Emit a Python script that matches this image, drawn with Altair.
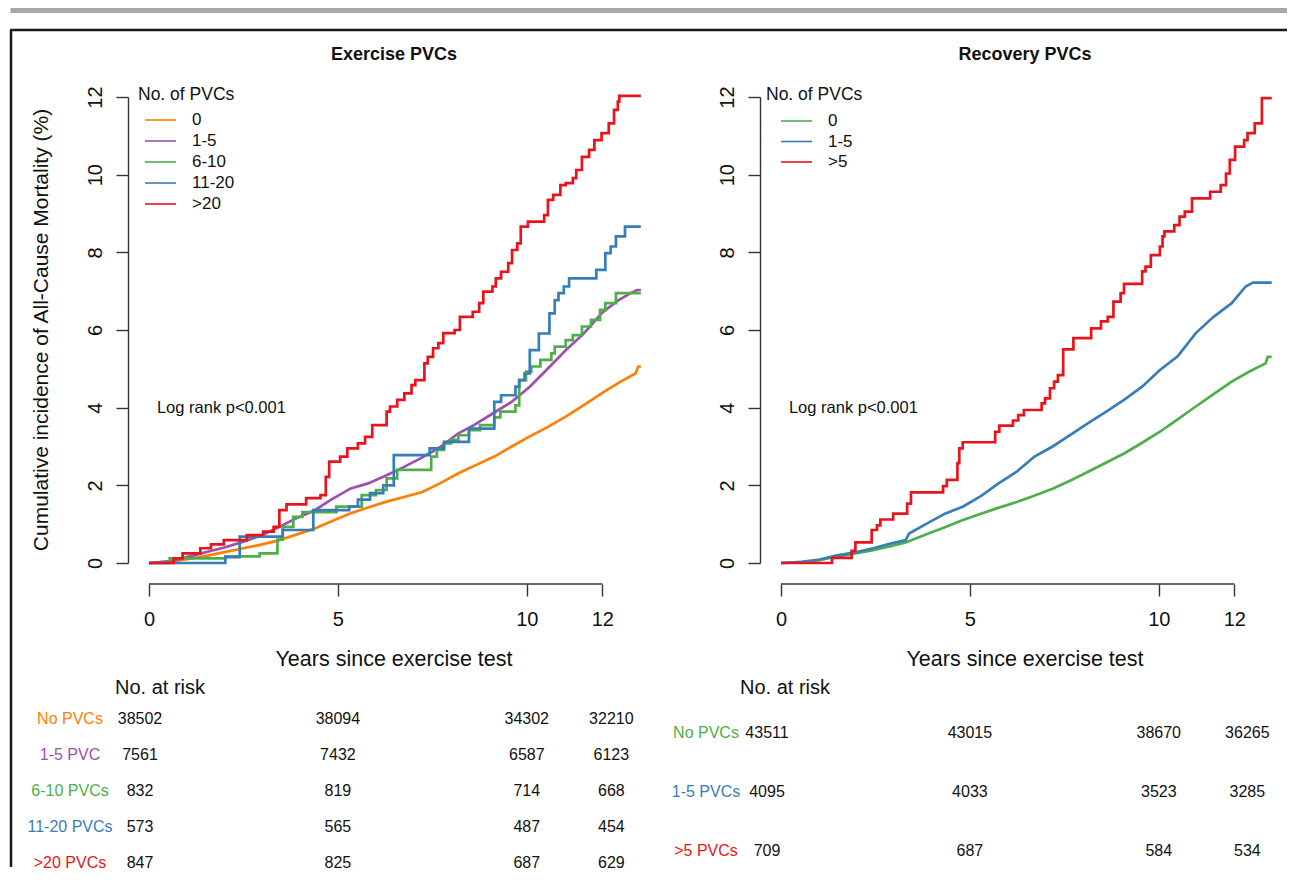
import altair as alt
import pandas as pd

# ---------------- data ----------------
year_ticks = [0, 5, 10, 12]
pct_ticks = [0, 2, 4, 6, 8, 10, 12]

# Exercise PVCs panel
ex_groups = ["0", "1-5", "6-10", "11-20", ">20"]
ex_colors = ["#FF7F00", "#9E4FB0", "#4DAF4A", "#377EB8", "#E8141B"]
ex_row_labels = ["No PVCs", "1-5 PVC", "6-10 PVCs", "11-20 PVCs", ">20 PVCs"]
ex_risk_0 = [38502, 38094, 34302, 32210]
ex_risk_1_5 = [7561, 7432, 6587, 6123]
ex_risk_6_10 = [832, 819, 714, 668]
ex_risk_11_20 = [573, 565, 487, 454]
ex_risk_gt20 = [847, 825, 687, 629]

ex_orange_t = [0, 0.6, 1.0, 1.55, 2.0, 2.5, 3.0, 3.45, 3.9, 4.39, 4.85, 5.34, 5.8, 6.29, 6.75,
               7.24, 7.7, 8.19, 8.65, 9.14, 9.6, 10.08, 10.55, 11.03, 11.5, 11.98, 12.45, 12.88, 12.95, 13.02]
ex_orange_v = [0, 0.04, 0.10, 0.19, 0.28, 0.38, 0.48, 0.59, 0.73, 0.89, 1.08, 1.28, 1.43, 1.58, 1.70,
               1.83, 2.05, 2.31, 2.52, 2.74, 3.00, 3.26, 3.50, 3.77, 4.06, 4.37, 4.65, 4.88, 5.06, 5.06]

ex_purple_t = [0, 0.6, 1.0, 1.55, 2.0, 2.5, 3.0, 3.45, 3.9, 4.39, 4.8, 5.34, 5.8, 6.29, 6.7,
               7.2, 7.7, 8.19, 8.6, 9.1, 9.6, 10.08, 10.5, 11.03, 11.5, 11.98, 12.4, 12.75, 12.92, 13.02]
ex_purple_v = [0, 0.05, 0.15, 0.29, 0.40, 0.55, 0.72, 0.93, 1.15, 1.36, 1.62, 1.92, 2.05, 2.26, 2.45,
               2.70, 2.98, 3.34, 3.55, 3.85, 4.15, 4.54, 4.95, 5.48, 5.90, 6.43, 6.75, 6.95, 7.03, 7.03]

ex_green_t = [0, 0.55, 2.02, 2.93, 3.40, 3.54, 3.82, 4.06, 4.96, 5.63, 6.01, 6.29, 6.57, 7.47, 7.62,
              7.81, 8.00, 8.19, 8.47, 8.76, 9.14, 9.30, 9.70, 9.80, 9.98, 10.12, 10.36, 10.65, 10.74,
              11.03, 11.22, 11.46, 11.70, 11.94, 12.08, 12.36, 13.02]
ex_green_v = [0, 0.12, 0.17, 0.25, 0.60, 0.93, 1.19, 1.31, 1.45, 1.75, 1.88, 2.18, 2.40, 2.74, 2.91,
              3.08, 3.17, 3.29, 3.42, 3.55, 3.75, 3.90, 4.06, 4.71, 4.93, 5.06, 5.23, 5.40, 5.57,
              5.74, 5.87, 6.09, 6.26, 6.52, 6.69, 6.95, 6.95]

ex_blue_t = [0, 2.02, 2.40, 3.54, 4.35, 5.30, 5.53, 5.85, 6.20, 6.48, 7.43, 7.81, 8.47, 9.14, 9.32,
             9.70, 9.80, 9.94, 10.08, 10.32, 10.60, 10.74, 10.84, 10.98, 11.12, 11.84, 12.08, 12.22,
             12.36, 12.60, 13.02]
ex_blue_v = [0, 0.15, 0.68, 0.85, 1.36, 1.45, 1.63, 1.80, 2.00, 2.78, 2.95, 3.12, 3.46, 4.15, 4.32,
             4.54, 4.71, 4.88, 5.48, 5.91, 6.43, 6.77, 6.95, 7.12, 7.33, 7.55, 7.98, 8.15,
             8.41, 8.66, 8.66]

ex_red_t = [0, 0.65, 0.89, 1.36, 1.64, 1.98, 2.59, 3.02, 3.30, 3.45, 3.64, 4.16, 4.54, 4.68, 4.77,
            5.06, 5.25, 5.53, 5.72, 5.91, 6.29, 6.38, 6.57, 6.76, 6.95, 7.05, 7.29, 7.38, 7.52, 7.66,
            7.79, 8.09, 8.23, 8.57, 8.74, 8.85, 9.09, 9.18, 9.32, 9.51, 9.61, 9.75, 9.84, 10.03, 10.46,
            10.56, 10.70, 10.89, 11.03, 11.22, 11.31, 11.46, 11.65, 11.79, 11.98, 12.17, 12.31, 12.41,
            12.45, 13.02]
ex_red_v = [0, 0.12, 0.25, 0.38, 0.48, 0.59, 0.72, 0.81, 0.93, 1.36, 1.51, 1.67, 1.75, 2.22, 2.61,
            2.74, 2.95, 3.08, 3.25, 3.55, 3.90, 4.03, 4.20, 4.37, 4.58, 4.71, 5.14, 5.31, 5.53, 5.66,
            5.92, 6.00, 6.34, 6.47, 6.69, 6.99, 7.12, 7.33, 7.50, 7.72, 8.06, 8.23, 8.66, 8.79, 8.96,
            9.35, 9.48, 9.73, 9.78, 9.91, 10.12, 10.46, 10.64, 10.89, 11.07, 11.32, 11.67, 11.88,
            12.03, 12.03]

# Recovery PVCs panel
rec_groups = ["0", "1-5", ">5"]
rec_colors = ["#4DAF4A", "#377EB8", "#E8141B"]
rec_row_labels = ["No PVCs", "1-5 PVCs", ">5 PVCs"]
rec_risk_0 = [43511, 43015, 38670, 36265]
rec_risk_1_5 = [4095, 4033, 3523, 3285]
rec_risk_gt5 = [709, 687, 584, 534]

rec_green_t = [0, 0.55, 1.02, 1.49, 2.0, 2.44, 2.9, 3.30, 3.8, 4.34, 4.8, 5.29, 5.75, 6.24, 6.7,
               7.19, 7.65, 8.13, 8.6, 9.08, 9.55, 10.03, 10.5, 10.98, 11.45, 11.93, 12.4, 12.83, 12.88, 12.99]
rec_green_v = [0, 0.02, 0.07, 0.17, 0.25, 0.33, 0.43, 0.53, 0.72, 0.92, 1.10, 1.27, 1.42, 1.57, 1.73,
               1.91, 2.12, 2.35, 2.58, 2.82, 3.09, 3.38, 3.70, 4.03, 4.35, 4.67, 4.93, 5.14, 5.31, 5.31]

rec_blue_t = [0, 0.55, 1.02, 1.49, 2.0, 2.44, 2.9, 3.30, 3.39, 3.87, 4.34, 4.81, 5.29, 5.76, 6.24,
              6.71, 7.19, 7.66, 8.13, 8.61, 9.08, 9.56, 10.03, 10.50, 10.98, 11.45, 11.93, 12.30, 12.49, 12.99]
rec_blue_v = [0, 0.03, 0.09, 0.20, 0.28, 0.38, 0.50, 0.59, 0.76, 1.02, 1.27, 1.45, 1.72, 2.05, 2.35,
              2.74, 3.00, 3.30, 3.60, 3.90, 4.20, 4.54, 4.97, 5.32, 5.92, 6.34, 6.69, 7.12, 7.22, 7.22]

rec_red_t = [0, 1.35, 1.87, 1.97, 2.40, 2.54, 2.63, 2.97, 3.34, 3.44, 4.29, 4.39, 4.67, 4.72, 4.81,
             5.67, 5.78, 6.14, 6.28, 6.43, 6.90, 6.99, 7.12, 7.23, 7.33, 7.47, 7.74, 8.21, 8.47, 8.65,
             8.80, 8.99, 9.08, 9.56, 9.65, 9.79, 10.03, 10.10, 10.15, 10.41, 10.55, 10.69, 10.88, 11.36,
             11.64, 11.78, 11.88, 12.02, 12.26, 12.35, 12.54, 12.73, 12.99]
rec_red_v = [0, 0.13, 0.31, 0.53, 0.85, 0.97, 1.12, 1.27, 1.53, 1.82, 1.98, 2.14, 2.57, 2.95, 3.11,
             3.38, 3.54, 3.67, 3.81, 3.94, 4.11, 4.24, 4.50, 4.67, 4.84, 5.50, 5.79, 6.04, 6.22, 6.34,
             6.73, 6.95, 7.19, 7.51, 7.63, 7.93, 8.15, 8.41, 8.54, 8.70, 8.92, 9.05, 9.39, 9.56,
             9.73, 10.03, 10.38, 10.72, 10.89, 11.07, 11.32, 11.97, 11.97]

# ---------------- layout / style ----------------
FONT = "Liberation Sans"
W, H = 493, 466
X_DOMAIN = [0, 13.05]
Y_DOMAIN = [0, 12]
AX_OFF = 21
TICK = 12
AXC = "#333333"
TXT = "#111111"


def x_enc():
    return alt.X("t:Q", scale=alt.Scale(domain=X_DOMAIN, nice=False, zero=False),
                 axis=alt.Axis(values=year_ticks, domain=False, tickSize=TICK, tickWidth=1.4,
                               tickColor=AXC, labelFontSize=20, labelPadding=29,
                               labelBaseline="alphabetic", labelFlush=False, labelOverlap=False,
                               labelColor=TXT, grid=False, offset=AX_OFF, title=None))


def y_enc():
    return alt.Y("v:Q", scale=alt.Scale(domain=Y_DOMAIN, nice=False),
                 axis=alt.Axis(values=pct_ticks, domainColor=AXC, domainWidth=1.4, tickSize=TICK,
                               tickWidth=1.4, tickColor=AXC, labelAngle=270, labelAlign="center",
                               labelBaseline="alphabetic", labelPadding=15, labelFontSize=20,
                               labelFlush=False, labelOverlap=False, labelColor=TXT, grid=False,
                               offset=AX_OFF, title=None))


def curve_df(names, ts_list, vs_list):
    rows = []
    for g, ts, vs in zip(names, ts_list, vs_list):
        for t, v in zip(ts, vs):
            rows.append({"group": g, "t": t, "v": v})
    return pd.DataFrame(rows)


def risk_df(groups, risk_lists):
    rows = []
    for g, lst in zip(groups, risk_lists):
        for t, n in zip(year_ticks, lst):
            rows.append({"group": g, "t": t, "n": n})
    return pd.DataFrame(rows)


def one_row():
    return pd.DataFrame({"k": [0]})


def panel(title, groups, colors, smooth_df, step_df, row_labels, risk_lists,
          leg_title_x, leg_line_x, leg_text_x, leg_range,
          atrisk_x, lab_x, tab_range, dx_first, dx_last, title_x, ytitle, deco):
    col = alt.Color("group:N", scale=alt.Scale(domain=groups, range=colors), legend=None)

    smooth = alt.Chart(smooth_df).mark_line(strokeWidth=2.7, interpolate="linear").encode(
        x=x_enc(), y=y_enc(), color=col)
    step = alt.Chart(step_df).mark_line(strokeWidth=2.7, interpolate="step-after").encode(
        x=x_enc(), y=y_enc(), color=col)
    logrank = alt.Chart(pd.DataFrame({"t": [0.21], "v": [3.99], "txt": ["Log rank p<0.001"]})).mark_text(
        align="left", baseline="middle", fontSize=16.5, color=TXT).encode(
        x=x_enc(), y=y_enc(), text="txt:N")
    xline = alt.Chart(pd.DataFrame({"t": [year_ticks[0]], "t2": [year_ticks[-1]]})).mark_rule(
        color=AXC, strokeWidth=1.4).encode(x=x_enc(), x2="t2:Q", y=alt.value(H + AX_OFF))
    curves = alt.layer(smooth, step, logrank, xline)

    # legend
    leg_y = alt.Y("group:N", scale=alt.Scale(type="point", domain=groups, range=leg_range, padding=0),
                  axis=None)
    leg_df = pd.DataFrame({"group": groups})
    leg_lines = alt.Chart(leg_df).mark_rule(strokeWidth=1.6).encode(
        x=alt.value(leg_line_x[0]), x2=alt.value(leg_line_x[1]), y=leg_y, color=col)
    leg_text = alt.Chart(leg_df).mark_text(align="left", baseline="middle", fontSize=17, color=TXT).encode(
        x=alt.value(leg_text_x), y=leg_y, text="group:N")
    legend = alt.layer(leg_lines, leg_text)

    # number-at-risk table
    tab_y = alt.Y("group:N", scale=alt.Scale(type="point", domain=groups, range=tab_range, padding=0),
                  axis=None)
    lab_df = pd.DataFrame({"group": groups, "label": row_labels})
    rdf = risk_df(groups, risk_lists)
    tab_labels = alt.Chart(lab_df).mark_text(align="center", baseline="middle", fontSize=16).encode(
        x=alt.value(lab_x), y=tab_y, text="label:N", color=col)
    nums_first = alt.Chart(rdf).transform_filter(alt.datum.t == year_ticks[0]).mark_text(
        baseline="middle", fontSize=16, color=TXT, dx=dx_first).encode(
        x=x_enc(), y=tab_y, text=alt.Text("n:Q", format="d"))
    nums_mid = alt.Chart(rdf).transform_filter(
        (alt.datum.t > year_ticks[0]) & (alt.datum.t < year_ticks[-1])).mark_text(
        baseline="middle", fontSize=16, color=TXT).encode(
        x=x_enc(), y=tab_y, text=alt.Text("n:Q", format="d"))
    nums_last = alt.Chart(rdf).transform_filter(alt.datum.t == year_ticks[-1]).mark_text(
        baseline="middle", fontSize=16, color=TXT, dx=dx_last).encode(
        x=x_enc(), y=tab_y, text=alt.Text("n:Q", format="d"))
    table = alt.layer(tab_labels, nums_first, nums_mid, nums_last)

    # titles and captions
    annots = [
        alt.Chart(one_row()).mark_text(align="center", baseline="middle", fontSize=18,
                                       fontWeight="bold", color=TXT, text=title).encode(
            x=alt.value(title_x), y=alt.value(-42)),
        alt.Chart(one_row()).mark_text(align="center", baseline="middle", fontSize=21.5,
                                       color=TXT, text="Years since exercise test").encode(
            x=alt.value(title_x), y=alt.value(563)),
        alt.Chart(one_row()).mark_text(align="left", baseline="middle", fontSize=17.5,
                                       color=TXT, text="No. of PVCs").encode(
            x=alt.value(leg_title_x), y=alt.value(-2)),
        alt.Chart(one_row()).mark_text(align="left", baseline="middle", fontSize=20,
                                       color=TXT, text="No. at risk").encode(
            x=alt.value(atrisk_x), y=alt.value(591)),
    ]
    if ytitle:
        annots.append(alt.Chart(one_row()).mark_text(
            align="center", baseline="middle", fontSize=21, angle=270, color=TXT,
            text="Cumulative incidence of All-Cause Mortality (%)").encode(
            x=alt.value(-107), y=alt.value(233)))

    layers = deco + [curves, legend, table] + annots
    return alt.layer(*layers).resolve_scale(y="independent").properties(width=W, height=H)


# page decorations (grey band and black frame of the figure)
deco_left = [
    alt.Chart(one_row()).mark_rule(color="#A8A8AA", strokeWidth=5).encode(
        x=alt.value(-138.5), x2=alt.value(1138), y=alt.value(-86.5)),
    alt.Chart(one_row()).mark_rule(color="#1A1A1A", strokeWidth=2.5).encode(
        x=alt.value(-139), x2=alt.value(1138), y=alt.value(-67)),
    alt.Chart(one_row()).mark_rule(color="#1A1A1A", strokeWidth=2.5).encode(
        x=alt.value(-138), y=alt.value(-67), y2=alt.value(770)),
]

ex_smooth = curve_df(["0", "1-5"], [ex_orange_t, ex_purple_t], [ex_orange_v, ex_purple_v])
ex_step = curve_df(["6-10", "11-20", ">20"], [ex_green_t, ex_blue_t, ex_red_t],
                   [ex_green_v, ex_blue_v, ex_red_v])
rec_smooth = curve_df(["0", "1-5"], [rec_green_t, rec_blue_t], [rec_green_v, rec_blue_v])
rec_step = curve_df([">5"], [rec_red_t], [rec_red_v])

left = panel("Exercise PVCs", ex_groups, ex_colors, ex_smooth, ex_step, ex_row_labels,
             [ex_risk_0, ex_risk_1_5, ex_risk_6_10, ex_risk_11_20, ex_risk_gt20],
             leg_title_x=-11, leg_line_x=(-4, 27), leg_text_x=43, leg_range=[23, 107],
             atrisk_x=-34, lab_x=-79, tab_range=[622, 766], dx_first=-9, dx_last=9,
             title_x=245, ytitle=True, deco=deco_left)

right = panel("Recovery PVCs", rec_groups, rec_colors, rec_smooth, rec_step, rec_row_labels,
              [rec_risk_0, rec_risk_1_5, rec_risk_gt5],
              leg_title_x=-15, leg_line_x=(0, 31), leg_text_x=47, leg_range=[24, 65],
              atrisk_x=-41, lab_x=-75, tab_range=[636, 754], dx_first=-14, dx_last=13,
              title_x=244, ytitle=False, deco=[])

chart = alt.hconcat(left, right, spacing=139, bounds="flush", padding=0).resolve_scale(
    color="independent", y="independent", x="independent").configure(
    font=FONT).configure_view(strokeWidth=0)

chart.save("out.html", embed_options={"renderer": "svg", "actions": False})
